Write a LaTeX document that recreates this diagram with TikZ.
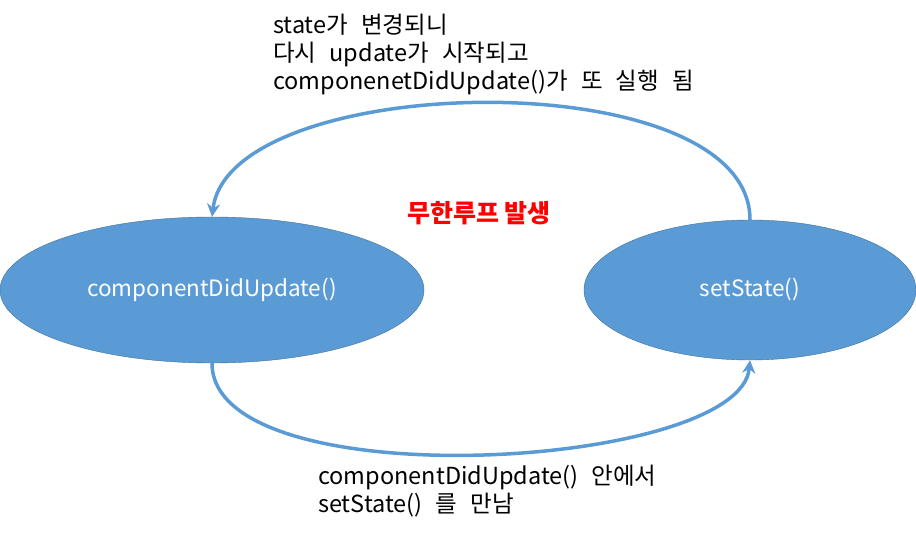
\documentclass[tikz,border=0pt]{standalone}
\usepackage{fontspec}
\setmainfont[WordSpace=2.5]{Noto Sans CJK KR}
\newfontfamily\headfont{Noto Sans CJK KR}
\usetikzlibrary{arrows.meta,shapes.geometric}
\definecolor{loopblue}{HTML}{5B9BD5}
\definecolor{loopedge}{HTML}{41719C}

\begin{document}
\begin{tikzpicture}[x=1pt,y=-1pt,
  state/.style={ellipse,draw=loopedge,fill=loopblue,text=white,inner sep=0pt,font=\fontsize{22.5}{28}\selectfont},
  loop/.style={loopblue,line width=3.5pt,-{Stealth[length=13pt,width=13pt]}},
  note/.style={align=left,inner sep=0pt,font=\fontsize{23.5}{28}\selectfont}]
  \useasboundingbox (0,0) rectangle (916,534);
  % the two states
  \node[state,minimum width=424pt,minimum height=146pt] (cdu) at (212,290) {componentDidUpdate()};
  \node[state,minimum width=332pt,minimum height=140pt] (sst) at (750,290) {setState()};
  % the loop
  \draw[loop] (sst.north) .. controls (750,60) and (230,70) .. (cdu.north);
  \draw[loop] (cdu.south) .. controls (212,500) and (740,470) .. (sst.south);
  \node[red,font=\headfont\fontsize{25}{28}\selectfont\bfseries,inner sep=0pt] (inf) at (479,213) {무한루프 발생};
  % notes
  \node[note,anchor=north west] (top) at (273,14) {state가 변경되니\\다시 update가 시작되고\\componenetDidUpdate()가 또 실행 됨};
  \node[note,anchor=north west] (bot) at (318,465) {componentDidUpdate() 안에서\\setState() 를 만남};
\end{tikzpicture}
\end{document}
